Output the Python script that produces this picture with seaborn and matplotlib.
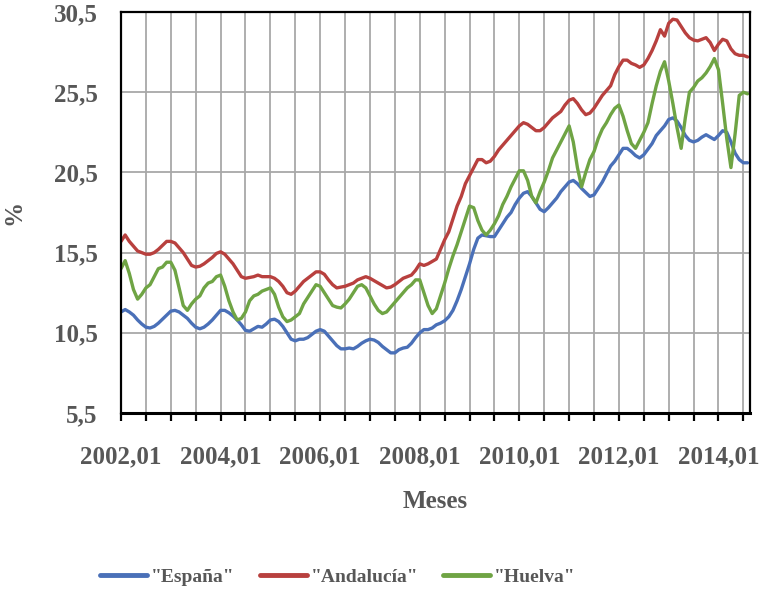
import numpy as np
import pandas as pd
import matplotlib
matplotlib.use("Agg")
import matplotlib.pyplot as plt
import seaborn as sns

# Monthly series, 2002-01 .. 2014-08
espana = [11.8, 11.95, 11.8, 11.6, 11.3, 11.05, 10.85, 10.8, 10.9, 11.1, 11.35, 11.6,
          11.85, 11.9, 11.8, 11.6, 11.4, 11.1, 10.85, 10.75, 10.85, 11.05, 11.3, 11.6,
          11.9, 11.9, 11.75, 11.55, 11.3, 11.0, 10.65, 10.6, 10.75, 10.9, 10.85, 11.05,
          11.3, 11.35, 11.2, 10.9, 10.5, 10.1, 10.0, 10.1, 10.1, 10.2, 10.4, 10.6,
          10.7, 10.6, 10.3, 10.0, 9.7, 9.5, 9.5, 9.55, 9.5, 9.65, 9.85, 10.0,
          10.1, 10.05, 9.9, 9.65, 9.45, 9.25, 9.25, 9.45, 9.55, 9.6, 9.85, 10.2,
          10.5, 10.7, 10.7, 10.8, 11.0, 11.1, 11.25, 11.5, 11.9, 12.5, 13.2, 14.0,
          14.8, 15.7, 16.4, 16.6, 16.55, 16.5, 16.5, 16.9, 17.3, 17.7, 18.0, 18.5,
          18.9, 19.2, 19.3, 19.0, 18.6, 18.2, 18.05, 18.3, 18.6, 18.9, 19.3, 19.6,
          19.9, 20.0, 19.8, 19.5, 19.25, 19.0, 19.1, 19.5, 19.9, 20.4, 20.9, 21.2,
          21.6, 22.0, 22.0, 21.8, 21.55, 21.4, 21.6, 21.95, 22.3, 22.8, 23.1, 23.4,
          23.8, 23.9, 23.7, 23.3, 22.8, 22.5, 22.4, 22.5, 22.7, 22.85, 22.7, 22.55,
          22.8, 23.1, 23.0, 22.4, 21.7, 21.3, 21.1, 21.1]

andalucia = [16.2, 16.6, 16.2, 15.9, 15.6, 15.5, 15.4, 15.4, 15.5, 15.7, 15.95, 16.2,
             16.2, 16.1, 15.8, 15.5, 15.1, 14.7, 14.6, 14.65, 14.8, 15.0, 15.2, 15.45,
             15.55, 15.4, 15.1, 14.8, 14.4, 14.0, 13.9, 13.95, 14.0, 14.1, 14.0, 14.0,
             14.0, 13.9, 13.7, 13.4, 13.0, 12.9, 13.1, 13.4, 13.7, 13.9, 14.1, 14.3,
             14.3, 14.15, 13.8, 13.5, 13.3, 13.35, 13.4, 13.5, 13.6, 13.8, 13.9, 14.0,
             13.9, 13.75, 13.6, 13.45, 13.3, 13.35, 13.5, 13.7, 13.9, 14.0, 14.1, 14.4,
             14.8, 14.7, 14.8, 14.95, 15.1, 15.7, 16.3, 16.8, 17.6, 18.4, 19.0, 19.8,
             20.3, 20.8, 21.3, 21.3, 21.1, 21.2, 21.5, 21.9, 22.2, 22.5, 22.8, 23.1,
             23.4, 23.6, 23.5, 23.3, 23.1, 23.1, 23.3, 23.6, 23.9, 24.1, 24.3, 24.7,
             25.0, 25.1, 24.8, 24.4, 24.1, 24.2, 24.5, 24.9, 25.3, 25.6, 25.9, 26.6,
             27.1, 27.5, 27.5, 27.3, 27.2, 27.05, 27.2, 27.6, 28.1, 28.7, 29.4, 29.0,
             29.8, 30.05, 30.0, 29.6, 29.2, 28.9, 28.75, 28.7, 28.8, 28.9, 28.6, 28.1,
             28.5, 28.8, 28.7, 28.2, 27.9, 27.8, 27.8, 27.7]

huelva = [14.5, 15.0, 14.2, 13.2, 12.6, 12.9, 13.3, 13.5, 14.0, 14.5, 14.6, 14.9,
          14.9, 14.4, 13.3, 12.2, 11.9, 12.3, 12.6, 12.8, 13.3, 13.6, 13.7, 14.0,
          14.1, 13.4, 12.5, 11.8, 11.3, 11.4, 11.8, 12.5, 12.8, 12.9, 13.1, 13.2,
          13.3, 12.9, 12.1, 11.5, 11.2, 11.3, 11.5, 11.7, 12.3, 12.7, 13.1, 13.5,
          13.4, 13.0, 12.6, 12.2, 12.1, 12.05, 12.3, 12.6, 13.0, 13.4, 13.5, 13.3,
          12.8, 12.3, 11.9, 11.7, 11.8, 12.1, 12.4, 12.7, 13.0, 13.3, 13.5, 13.8,
          13.8, 13.0, 12.2, 11.7, 12.0, 12.8, 13.6, 14.5, 15.3, 16.0, 16.8, 17.6,
          18.4, 18.3, 17.5, 16.9, 16.6, 16.9, 17.3, 17.8, 18.5, 19.0, 19.6, 20.1,
          20.6, 20.6, 20.0, 19.0, 18.6, 19.3, 19.9, 20.6, 21.4, 21.9, 22.4, 22.9,
          23.4, 22.4, 20.8, 19.6, 20.5, 21.3, 21.8, 22.6, 23.2, 23.6, 24.1, 24.5,
          24.7, 24.0, 23.1, 22.3, 22.0, 22.5, 23.0, 23.6, 24.8, 25.9, 26.8, 27.4,
          26.2, 24.8, 23.3, 22.0, 23.9, 25.5, 25.8, 26.2, 26.4, 26.7, 27.1, 27.6,
          26.9, 24.8, 22.6, 20.8, 22.9, 25.3, 25.5, 25.4]

series_names = ['"España"', '"Andalucía"', '"Huelva"']
series_colors = ["#4a70b8", "#b8403e", "#6fa444"]
y_ticks = [5.5, 10.5, 15.5, 20.5, 25.5, 30.5]
x_label_years = ["2002,01", "2004,01", "2006,01", "2008,01", "2010,01", "2012,01", "2014,01"]

n = len(espana)
month = np.arange(n)
df = pd.DataFrame({
    "mes": np.concatenate([month, month, month]),
    "valor": espana + andalucia + huelva,
    "serie": [series_names[0]] * n + [series_names[1]] * n + [series_names[2]] * n,
})

sns.set_theme(style="white")
plt.rcParams["font.family"] = ["Liberation Serif", "DejaVu Serif"]

TXT = "#575757"

fig = plt.figure(figsize=(7.63, 5.89), dpi=100)
ax = fig.add_axes([0.1586, 0.2988, 0.8244, 0.6808])

sns.lineplot(data=df, x="mes", y="valor", hue="serie", hue_order=series_names,
             palette=dict(zip(series_names, series_colors)), linewidth=2.4, ax=ax,
             legend=True)

ax.set_xlim(0, 151.6)
ax.set_ylim(5.5, 30.5)

xt = np.arange(0, n, 6)
xlabels = []
for t in xt:
    if t % 24 == 0:
        xlabels.append(x_label_years[t // 24])
    else:
        xlabels.append("")
ax.set_xticks(xt)
ax.set_xticklabels(xlabels)
ax.set_yticks(y_ticks)
ax.set_yticklabels([f"{v:.1f}".replace(".", ",") for v in y_ticks])

ax.grid(True, color="#a8a8a8", linewidth=1.3)
ax.set_axisbelow(True)
for s in ax.spines.values():
    s.set_color("black")
    s.set_linewidth(1.6)
ax.spines["bottom"].set_linewidth(2.2)

ax.tick_params(axis="x", which="major", length=6, width=1.6, color="black",
               direction="out", bottom=True, pad=17, labelsize=18, labelcolor=TXT)
ax.tick_params(axis="y", length=0, pad=17, labelsize=18, labelcolor=TXT)
for lab in ax.get_xticklabels() + ax.get_yticklabels():
    lab.set_fontweight("bold")

ax.set_xlabel("Meses", fontsize=18, color=TXT, fontweight="bold", labelpad=16)
ax.set_ylabel("%", fontsize=18, color=TXT, fontweight="bold")
ax.yaxis.set_label_coords(-0.152, 0.5)

leg = ax.legend(loc="center", bbox_to_anchor=(0.345, -0.409), ncol=3, frameon=False,
                handlelength=2.4, columnspacing=1.3, handletextpad=0.2,
                prop={"family": ["Liberation Serif"], "weight": "bold", "size": 14})
for t in leg.get_texts():
    t.set_color(TXT)
for h in leg.get_lines():
    h.set_linewidth(3.5)

fig.savefig("out.png", dpi=100)
